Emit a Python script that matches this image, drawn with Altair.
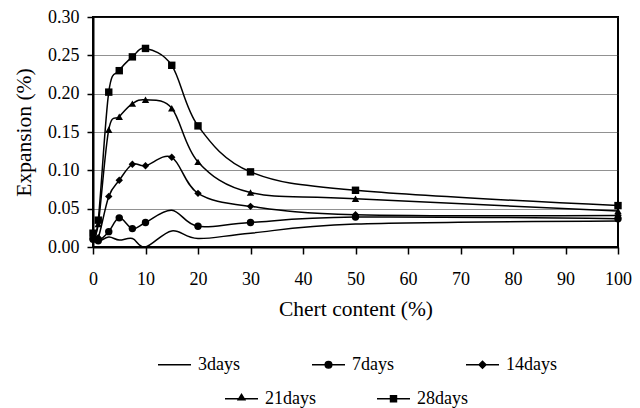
import altair as alt
import pandas as pd

# ---- data ----
chert = [0, 1, 3, 5, 7.5, 10, 15, 20, 30, 50, 100]
series_names = ["3days", "7days", "14days", "21days", "28days"]
d3 = [0.008, 0.007, 0.013, 0.009, 0.011, 0.000, 0.021, 0.011, 0.018, 0.030, 0.034]
d7 = [0.010, 0.008, 0.020, 0.038, 0.024, 0.032, 0.048, 0.027, 0.032, 0.039, 0.037]
d14 = [0.012, 0.012, 0.066, 0.087, 0.108, 0.106, 0.117, 0.070, 0.053, 0.042, 0.041]
d21 = [0.015, 0.030, 0.153, 0.170, 0.187, 0.192, 0.181, 0.111, 0.071, 0.063, 0.047]
d28 = [0.018, 0.035, 0.202, 0.230, 0.248, 0.259, 0.237, 0.158, 0.098, 0.074, 0.054]
hidden_markers = [("7days", 15)]  # point without visible marker in the reference
x_ticks = [0, 10, 20, 30, 40, 50, 60, 70, 80, 90, 100]
y_ticks = [0.0, 0.05, 0.10, 0.15, 0.20, 0.25, 0.30]

values = [d3, d7, d14, d21, d28]
rows = []
for name, ys in zip(series_names, values):
    for xv, yv in zip(chert, ys):
        rows.append({"series": name, "x": xv, "y": yv,
                     "marker": (name, xv) not in hidden_markers})
df = pd.DataFrame(rows)

FONT = "Liberation Serif"

# marker shapes on the plot
plot_shapes = ["stroke", "circle", "diamond", "triangle-up", "square"]
# legend symbols: line with marker in the middle (custom SVG paths)
legend_paths = [
    "M-1,0H1M-0.12,0H0.12",
    "M-1,0H1M0.2,0A0.2,0.2,0,1,1,-0.2,0A0.2,0.2,0,1,1,0.2,0Z",
    "M-1,0H1M0,-0.21L0.21,0L0,0.21L-0.21,0Z",
    "M-1,0H1M0,-0.26L0.2,0.06L-0.2,0.06Z",
    "M-1,0H1M-0.18,-0.18H0.18V0.18H-0.18Z",
]

x_enc = alt.X("x:Q", scale=alt.Scale(domain=[0, 100], nice=False),
              axis=alt.Axis(values=x_ticks, title="Chert content (%)", grid=False,
                            tickSize=7, labelPadding=16, titlePadding=10,
                            labelFlush=False, format="d"))
y_enc = alt.Y("y:Q", scale=alt.Scale(domain=[0, 0.30], nice=False),
              axis=alt.Axis(values=y_ticks, format=".2f", title="Expansion (%)",
                            grid=True, gridDash=[1, 1], gridColor="#222",
                            gridWidth=1, tickSize=6, labelPadding=8,
                            titlePadding=12))

base = alt.Chart(df)

lines = base.mark_line(interpolate="cardinal", color="black", strokeWidth=1.5).encode(
    x=x_enc, y=y_enc, detail="series:N"
)

points = base.transform_filter(alt.datum.marker).mark_point(
    filled=True, color="black", size=55, opacity=1
).encode(
    x=x_enc, y=y_enc,
    shape=alt.Shape("series:N",
                    scale=alt.Scale(domain=series_names, range=plot_shapes),
                    legend=None),
    strokeWidth=alt.condition(alt.datum.series == "3days", alt.value(2.5), alt.value(1)),
)


def legend_layer(names, paths, lx, ly, colpad):
    return alt.Chart(df).transform_filter("false").mark_point(
        filled=False, fill="black", stroke="black", strokeWidth=1.5, opacity=1
    ).encode(
        shape=alt.Shape(
            "series:N",
            scale=alt.Scale(domain=names, range=paths),
            legend=alt.Legend(
                title=None, orient="none", legendX=lx, legendY=ly,
                direction="horizontal", symbolSize=1089, symbolStrokeWidth=1.5,
                labelFont=FONT, labelFontSize=18, labelColor="black",
                labelOffset=6, columnPadding=colpad, padding=0,
                labelLimit=200,
            ),
        )
    )


legA = legend_layer(series_names[:3], legend_paths[:3], 64, 330, 69)
legB = legend_layer(series_names[3:], legend_paths[3:], 131, 364, 58)

chart = alt.layer(lines, points, legA, legB).resolve_scale(
    shape="independent"
).properties(
    width=525, height=230,
    autosize=alt.AutoSizeParams(type="none"),
    padding={"left": 85, "top": 9, "right": 14, "bottom": 170},
).configure(font=FONT).configure_view(
    stroke="black", strokeWidth=2
).configure_axis(
    labelFont=FONT, titleFont=FONT, labelFontSize=18, titleFontSize=21.5,
    labelColor="black", titleColor="black", titleFontWeight="normal",
    domainColor="black", domainWidth=2, tickColor="black", tickWidth=1.5,
)

chart.save("out.html", embed_options={"renderer": "svg", "actions": False})
